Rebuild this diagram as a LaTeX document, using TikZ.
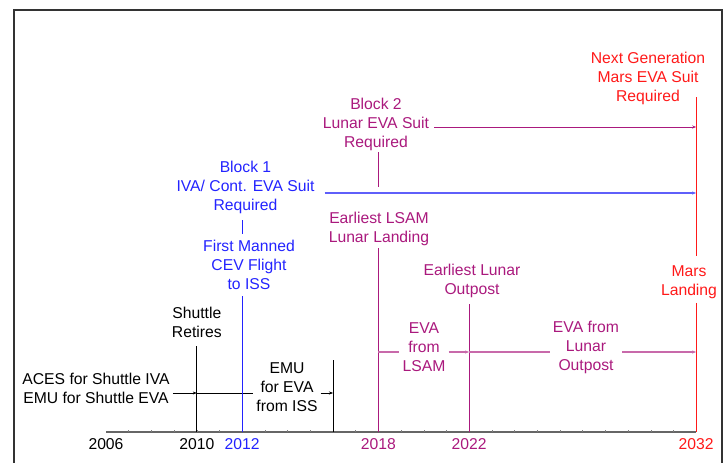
\documentclass[tikz,border=0pt]{standalone}
\usepackage{fontspec}
\setmainfont{Liberation Sans}
\usepackage{tikz}
\usetikzlibrary{arrows.meta,positioning}
\definecolor{blockone}{RGB}{35,35,255}
\definecolor{blockoneline}{RGB}{95,95,250}
\definecolor{lunar}{RGB}{170,25,125}
\definecolor{lunarline}{RGB}{200,105,170}
\definecolor{mars}{RGB}{255,25,25}

\begin{document}
\begin{tikzpicture}[
x=1pt,y=-1pt,
font=\fontsize{15.7}{19}\selectfont,
lbl/.style={align=center,inner sep=1pt},
gaplbl/.style={align=center,inner sep=3pt},
event/.style={line width=0.8pt},
spanarrow/.style={-{Stealth[length=4pt,width=3pt]}}]
    \useasboundingbox (0,0) rectangle (726,463);
    % Frame, open at the bottom
    \draw[line width=1.4pt,black!80] (14,463) |- (722,10) -- (722,463);

    % Draw axis, one tick per year
    \foreach \yr in {2006,...,2032}
        \coordinate (t\yr) at ({106+(\yr-2006)*22.7},432);
    \draw[line width=1.3pt,black!60] (t2006) -- (t2032);
    \foreach \yr in {2007,...,2031}
        \draw[black!50,line width=0.6pt] (t\yr) -- ++(0,-2.5);

    \node[below=3pt] (y2006) at (t2006) {2006};
    \node[below=3pt] (y2010) at (t2010) {2010};
    \node[below=3pt,blockone] (y2012) at (t2012) {2012};
    \node[below=3pt,lunar] (y2018) at (t2018) {2018};
    \node[below=3pt,lunar] (y2022) at (t2022) {2022};
    \node[below=3pt,mars] (y2032) at (t2032) {2032};

    % Shuttle era
    \node[lbl] (aces) at (96,388.5) {ACES for Shuttle IVA\\EMU for Shuttle EVA};
    \node[lbl] (retire) at (t2010 |- 0,322.5) {Shuttle\\Retires};
    \node[gaplbl] (emuiss) at (287,387.5) {EMU\\for EVA\\from ISS};
    \coordinate (isslevel) at (0,393);

    \draw[event,shorten >=7.5pt] (t2010) -- (t2010 |- retire.south);
    \draw[event] (t2016) -- (t2016 |- emuiss.north);
    \draw[spanarrow,shorten <=2pt] (aces.east |- isslevel) -- (t2010 |- isslevel);
    \draw (t2010 |- isslevel) -- (emuiss.west |- isslevel);
    \draw[spanarrow] (emuiss.east |- isslevel) -- (t2016 |- isslevel);

    % Block 1 suit
    \node[lbl,blockone] (cev) at (249,265) {First Manned\\CEV Flight\\to ISS};
    \node[lbl,blockone] (blk1) at (245.5,187.6) {Block 1\\IVA/ Cont. EVA Suit\\Required};
    \coordinate (suitone) at (0,193);

    \draw[event,blockone,shorten >=5pt] (t2012) -- (t2012 |- cev.south);
    \draw[event,blockone,shorten <=5pt,shorten >=5pt] (t2012 |- blk1.south) -- (t2012 |- cev.north);
    \draw[spanarrow,blockoneline,line width=1.3pt,shorten <=9pt] (blk1.east |- suitone) -- (t2032 |- suitone);

    % Block 2 suit and lunar missions
    \node[lbl,lunar] (blk2) at (376,124.6) {Block 2\\Lunar EVA Suit\\Required};
    \node[lbl,lunar] (lsam) at (379,229.1) {Earliest LSAM\\Lunar Landing};
    \node[lbl,lunar] (outpost) at (472,280.6) {Earliest Lunar\\Outpost};
    \node[gaplbl,lunar] (evalsam) at (424,347) {EVA\\from\\LSAM};
    \node[gaplbl,lunar] (evaout) at (586,347) {EVA from\\Lunar\\Outpost};
    \coordinate (suittwo) at (0,127);
    \coordinate (lunarstay) at (0,352);

    \draw[event,lunar,shorten >=6pt] (t2018 |- blk2.south) -- (t2018 |- suitone);
    \draw[spanarrow,lunar,line width=1pt,shorten <=4pt] (blk2.east |- suittwo) -- (t2032 |- suittwo);
    \draw[event,lunar,shorten >=1pt] (t2018) -- (t2018 |- lsam.south);
    \draw[event,lunar,shorten >=5pt] (t2022) -- (t2022 |- outpost.south);

    \tikzset{lunarstep/.style={lunarline,line width=1.4pt}}
    \draw[lunarstep] (t2018 |- lunarstay) -- (evalsam.west |- lunarstay);
    \draw[lunarstep,spanarrow] (evalsam.east |- lunarstay) -- (t2022 |- lunarstay);
    \draw[lunarstep] (t2022 |- lunarstay) -- (evaout.west |- lunarstay);
    \draw[lunarstep,spanarrow] (evaout.east |- lunarstay) -- (t2032 |- lunarstay);

    % Mars
    \node[lbl,mars] (nextgen) at (648,78.6) {Next Generation\\Mars EVA Suit\\Required};
    \node[lbl,mars] (landing) at (689,282.1) {Mars\\Landing};

    \draw[event,mars,shorten >=8pt] (t2032 |- 0,97) -- (t2032 |- landing.north);
    \draw[event,mars,shorten <=3pt] (t2032 |- landing.south) -- (t2032);

\end{tikzpicture}
\end{document}
